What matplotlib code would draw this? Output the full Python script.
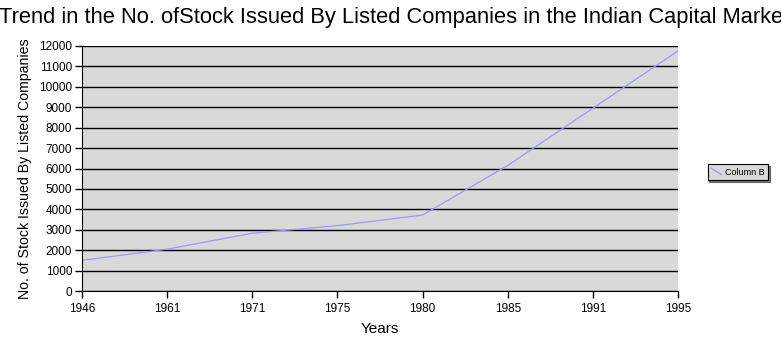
import matplotlib
matplotlib.use("Agg")
import matplotlib.pyplot as plt
from matplotlib.lines import Line2D
from matplotlib.legend_handler import HandlerBase

years = ["1946", "1961", "1971", "1975", "1980", "1985", "1991", "1995"]
stocks = [1500, 2050, 2830, 3200, 3720, 6150, 8950, 11760]
series_name = "Column B"
y_ticks = list(range(0, 12001, 1000))

plt.rcParams['font.family'] = ['Liberation Sans', 'DejaVu Sans']

W, H = 781, 345
fig = plt.figure(figsize=(W / 100, H / 100), dpi=100)
left, right, top, bottom = 82, 678, 46, 291
ax = fig.add_axes([left / W, 1 - bottom / H, (right - left) / W, (bottom - top) / H])
ax.set_facecolor('#d9d9d9')

x = list(range(len(years)))
line, = ax.plot(x, stocks, color='#9999ff', lw=0.9, label=series_name)

ax.set_xlim(0, len(years) - 1)
ax.set_ylim(0, 12000)
ax.set_yticks(y_ticks)
ax.set_xticks(x)
ax.set_xticklabels(years)
ax.yaxis.grid(True, color='black', lw=1.0)
ax.set_axisbelow(True)
ax.spines['right'].set_visible(False)
ax.spines['top'].set_visible(False)
ax.spines['left'].set_color('black')
ax.spines['bottom'].set_color('black')
ax.tick_params(axis='both', direction='out', length=5, width=1, labelsize=8.5, color='black')
ax.tick_params(axis='y', pad=2)
ax.tick_params(axis='x', pad=4)

ax.set_xlabel("Years", fontsize=11, labelpad=5)
ax.set_ylabel("No. of Stock Issued By Listed Companies", fontsize=10.2, labelpad=5)

fig.text(394 / W, 1 - 18 / H, "Trend in the No. ofStock Issued By Listed Companies in the Indian Capital Market",
         ha='center', va='center', fontsize=15.75)


class DiagHandler(HandlerBase):
    def create_artists(self, legend, orig_handle, xdescent, ydescent, width, height, fontsize, trans):
        l = Line2D([0, width], [height, 0], color=orig_handle.get_color(), lw=0.9)
        l.set_transform(trans)
        return [l]


leg = fig.legend(handles=[line], loc='center', bbox_to_anchor=(738 / W, 1 - 172 / H),
                 fontsize=6.5, frameon=True, fancybox=False,
                 shadow={'ox': 1.2, 'oy': -1.2, 'color': 'black'},
                 handler_map={Line2D: DiagHandler()}, handlelength=1.1, handletextpad=0.4,
                 borderpad=0.4)
leg.get_frame().set_facecolor('#d9d9d9')
leg.get_frame().set_edgecolor('black')
leg.get_frame().set_linewidth(0.8)

fig.savefig("out.png", dpi=100)
